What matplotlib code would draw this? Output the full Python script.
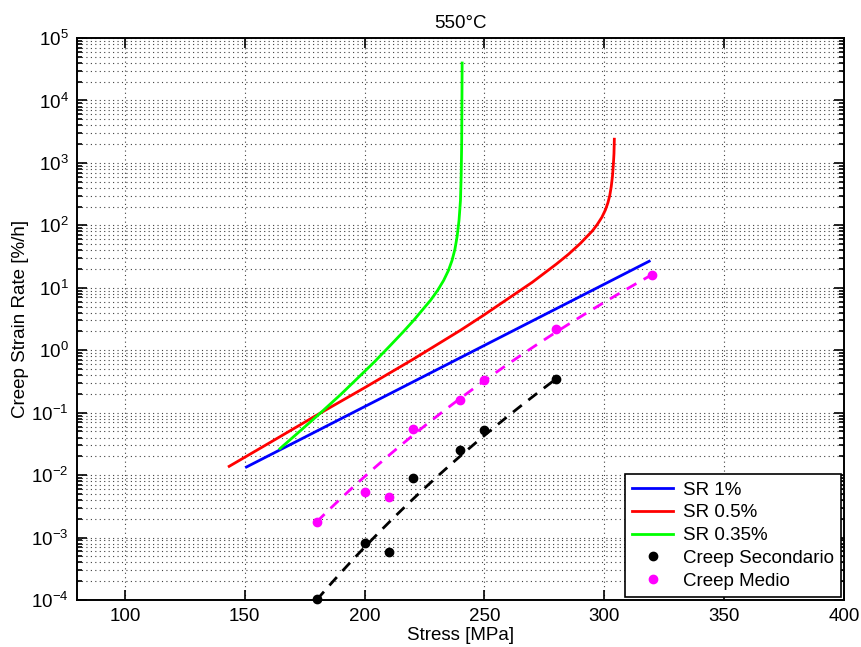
import numpy as np
import matplotlib
matplotlib.use("Agg")
import matplotlib.pyplot as plt
from matplotlib.ticker import FixedLocator, FuncFormatter, LogLocator, NullFormatter

plt.rcParams["font.family"] = ["Liberation Sans", "DejaVu Sans"]
plt.rcParams["mathtext.fontset"] = "custom"
plt.rcParams["mathtext.rm"] = "Liberation Sans"
plt.rcParams["mathtext.it"] = "Liberation Sans:italic"
plt.rcParams["mathtext.bf"] = "Liberation Sans:bold"

# --- model curves (stress [MPa] vs log10 of strain rate [%/h]) ---
sr1_stress = [150.7, 200, 250, 300, 318.75]
sr1_log = [-1.87, -0.903, 0.078, 1.058, 1.426]

sr05_stress = [143.5, 160, 180, 200, 220, 240, 250, 260, 270, 280, 285, 290,
               295, 297, 299, 300.5, 301.5, 302.3, 302.9, 303.4, 303.8,
               304.05, 304.2]
sr05_log = [-1.859, -1.49, -1.04, -0.60, -0.15, 0.32, 0.57, 0.83, 1.09, 1.38,
            1.535, 1.71, 1.91, 2.01, 2.13, 2.25, 2.36, 2.48, 2.62, 2.78, 2.98,
            3.15, 3.38]

sr035_stress = [164.7, 172, 181.7, 190, 196.9, 204, 210.8, 216, 220.5, 224,
                227.5, 230.5, 233, 235, 236.5, 237.7, 238.6, 239.4, 240.0,
                240.3, 240.5, 240.6, 240.7]
sr035_log = [-1.575, -1.33, -1.00, -0.71, -0.454, -0.19, 0.08, 0.29, 0.48,
             0.64, 0.80, 0.96, 1.12, 1.28, 1.44, 1.62, 1.82, 2.08, 2.40,
             2.80, 3.30, 3.90, 4.60]

# --- experimental points ---
sec_stress = [180, 200, 210, 220, 240, 250, 280]
sec_rate = [1.05e-4, 8.1e-4, 5.8e-4, 9.1e-3, 0.0257, 0.052, 0.35]

med_stress = [180, 200, 210, 220, 240, 250, 280, 320]
med_rate = [1.78e-3, 5.4e-3, 4.5e-3, 0.0556, 0.158, 0.34, 2.19, 16.3]

# --- Norton power-law fits, given by their end points ---
sec_fit_stress = [180, 280]
sec_fit_rate = [1.0e-4, 0.35]
med_fit_stress = [180, 320]
med_fit_rate = [1.78e-3, 16.3]

x_ticks = [100, 150, 200, 250, 300, 350, 400]

FS = 13.5

fig = plt.figure(figsize=(8.61, 6.47), dpi=100)
ax = fig.add_axes([0.0894, 0.0726, 0.8908, 0.8686])
ax.set_yscale("log")

ax.plot(sr1_stress, 10.0 ** np.array(sr1_log), color=(0, 0, 1), lw=2.0,
        label="SR 1%", zorder=3)
ax.plot(sr05_stress, 10.0 ** np.array(sr05_log), color=(1, 0, 0), lw=2.0,
        label="SR 0.5%", zorder=3)
ax.plot(sr035_stress, 10.0 ** np.array(sr035_log), color=(0, 1, 0), lw=2.0,
        label="SR 0.35%", zorder=3)


def norton_line(s, r):
    """Power law r = r0 * (stress / s0) ** n through two end points."""
    n = np.log(r[1] / r[0]) / np.log(s[1] / s[0])
    xs = np.linspace(s[0], s[1], 100)
    return xs, r[0] * (xs / s[0]) ** n


xs, ys = norton_line(sec_fit_stress, sec_fit_rate)
ax.plot(xs, ys, color="k", lw=2.0, ls=(0, (4, 3)), zorder=3)
xs, ys = norton_line(med_fit_stress, med_fit_rate)
ax.plot(xs, ys, color=(1, 0, 1), lw=2.0, ls=(0, (4, 3)), zorder=3)

ax.plot(sec_stress, sec_rate, "o", color="k", ms=6, ls="none",
        label="Creep Secondario", zorder=4, clip_on=False)
ax.plot(med_stress, med_rate, "o", color=(1, 0, 1), ms=6, ls="none",
        label="Creep Medio", zorder=4)

ax.set_xlim(80, 400)
ax.set_ylim(1e-4, 1e5)
ax.xaxis.set_major_locator(FixedLocator(x_ticks))
ax.yaxis.set_major_locator(LogLocator(base=10, numticks=20))
ax.yaxis.set_minor_locator(LogLocator(base=10, subs=np.arange(2, 10), numticks=20))
ax.yaxis.set_minor_formatter(NullFormatter())
ax.yaxis.set_major_formatter(
    FuncFormatter(lambda v, p: r"$10^{%d}$" % int(round(np.log10(v)))))

ax.grid(True, which="major", axis="both", color="0.25", ls=(0, (1, 3)), lw=0.8)
ax.grid(True, which="minor", axis="y", color="0.25", ls=(0, (1, 3)), lw=0.8)
ax.set_axisbelow(True)

ax.tick_params(which="both", direction="in", top=True, right=True,
               labelsize=FS, width=1.2)
ax.tick_params(which="major", length=7, pad=6)
ax.tick_params(which="minor", length=3.5)
for sp in ax.spines.values():
    sp.set_linewidth(1.4)

ax.set_title("550°C", fontsize=FS, pad=7)
ax.set_xlabel("Stress [MPa]", fontsize=FS, labelpad=1)
ax.set_ylabel("Creep Strain Rate [%/h]", fontsize=FS, labelpad=1.5)

leg = ax.legend(loc="lower right", fontsize=FS, frameon=True, fancybox=False,
                framealpha=1, edgecolor="k", borderaxespad=0.15,
                handlelength=2.2, handletextpad=0.5, labelspacing=0.3,
                borderpad=0.4)
leg.get_frame().set_linewidth(1.2)

fig.savefig("out.png", dpi=100)
